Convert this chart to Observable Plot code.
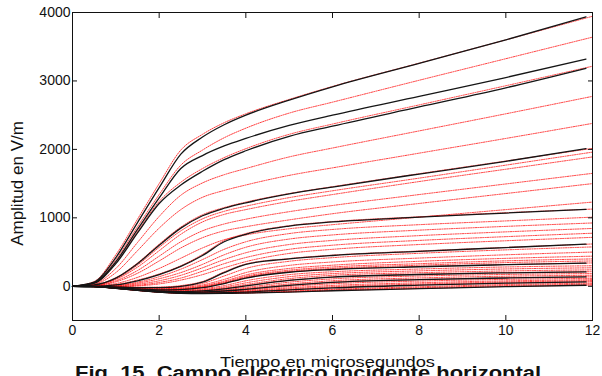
<!DOCTYPE html>
<html><head><meta charset="utf-8">
<script src="https://cdn.jsdelivr.net/npm/d3@7"></script>
<script src="https://cdn.jsdelivr.net/npm/@observablehq/plot@0.6"></script>
<style>
html,body{margin:0;padding:0;background:#fff;overflow:hidden;width:602px;height:376px}
#wrap{position:relative;width:602px;height:376px}
.lab{position:absolute;white-space:nowrap;font-family:"Liberation Sans",Arial,sans-serif;transform-origin:0 0;color:#111}
</style></head><body><div id="wrap"></div>
<script>
// Tick labels
const xTicks = [0, 2, 4, 6, 8, 10, 12];
const yTicks = [0, 1000, 2000, 3000, 4000];
// Sample times (microseconds)
const tiempo      = [0, 0.5, 1, 1.5, 2, 2.5, 3, 3.5, 4, 5, 6, 8, 10, 12];
const tiempoNegro = [0, 0.5, 1, 1.5, 2, 2.5, 3, 3.5, 4, 5, 6, 8, 10, 11.85];
// Black (solid) curves, V/m
const curvasNegras = [
  [0, 60, 420, 930, 1440, 1930, 2180, 2360, 2500, 2720, 2915, 3257, 3600, 3935],
  [0, 50, 360, 830, 1290, 1720, 1910, 2050, 2160, 2350, 2500, 2775, 3050, 3320],
  [0, 45, 330, 780, 1210, 1480, 1680, 1850, 1980, 2190, 2340, 2620, 2900, 3185],
  [0, 20, 120, 330, 600, 850, 1030, 1140, 1220, 1350, 1450, 1640, 1825, 2010],
  [0, 0, 20, 80, 170, 290, 450, 650, 760, 880, 940, 1010, 1070, 1125],
  [0, -1, -10, -20, -20, 0, 60, 200, 320, 400, 450, 510, 565, 615],
  [0, -3, -20, -40, -52, -48, -20, 40, 120, 205, 245, 285, 315, 338],
  [0, -4, -25, -50, -69, -77, -67, -38, 5, 85, 133, 172, 196, 210],
  [0, -5, -26, -55, -79, -89, -84, -69, -44, 12, 57, 97, 121, 137],
  [0, -5, -29, -59, -84, -99, -99, -94, -84, -54, -24, 16, 46, 64],
  [0, -5, -30, -60, -86, -102, -106, -105, -100, -85, -65, -35, -5, 15]
];
// Red (dotted) curves, V/m
const curvasRojas = [
  [0, 70, 460, 980, 1500, 1990, 2220, 2390, 2520, 2730, 2920, 3260, 3600, 3945],
  [0, 55, 390, 870, 1340, 1770, 1990, 2170, 2310, 2530, 2690, 3010, 3325, 3640],
  [0, 45, 340, 800, 1240, 1520, 1720, 1880, 2010, 2220, 2370, 2650, 2930, 3215],
  [0, 35, 260, 640, 1020, 1330, 1510, 1630, 1720, 1890, 2020, 2270, 2520, 2775],
  [0, 28, 200, 520, 850, 1120, 1300, 1400, 1480, 1620, 1730, 1945, 2160, 2380],
  [0, 20, 125, 340, 615, 865, 1045, 1150, 1230, 1355, 1455, 1645, 1830, 2015],
  [0, 16, 110, 310, 570, 810, 985, 1095, 1170, 1295, 1395, 1580, 1770, 1960],
  [0, 14, 100, 280, 520, 760, 940, 1050, 1120, 1240, 1340, 1530, 1710, 1890],
  [0, 10, 80, 230, 440, 650, 810, 910, 980, 1090, 1180, 1340, 1495, 1650],
  [0, 8, 65, 190, 370, 560, 710, 810, 870, 970, 1060, 1210, 1355, 1500],
  [0, 5, 40, 130, 260, 410, 560, 680, 750, 840, 900, 1010, 1120, 1230],
  [0, 0, 25, 90, 180, 300, 465, 665, 770, 885, 945, 1015, 1075, 1128],
  [0, 0, 15, 60, 140, 250, 390, 540, 650, 770, 830, 900, 955, 1010],
  [0, 0, 10, 45, 110, 200, 320, 460, 570, 690, 750, 820, 875, 925],
  [0, 0, 5, 30, 80, 160, 270, 390, 490, 610, 670, 740, 795, 845],
  [0, 0, 0, 15, 55, 120, 220, 330, 420, 540, 600, 670, 725, 775],
  [0, -1, -5, 5, 35, 90, 170, 270, 360, 480, 540, 610, 665, 715],
  [0, -1, -8, -15, -12, 10, 70, 210, 325, 405, 455, 515, 568, 618],
  [0, -1, -10, -18, -18, -2, 42, 150, 260, 365, 418, 482, 532, 575],
  [0, -2, -12, -24, -28, -16, 20, 100, 200, 305, 355, 412, 460, 500],
  [0, -2, -14, -28, -36, -28, 5, 75, 165, 260, 308, 365, 408, 440],
  [0, -3, -15, -32, -42, -36, -5, 60, 145, 235, 282, 330, 372, 400],
  [0, -3, -18, -35, -47, -42, -12, 50, 132, 218, 262, 308, 346, 370],
  [0, -3, -19, -39, -50, -46, -18, 42, 122, 207, 248, 288, 318, 341],
  [0, -3, -20, -42, -56, -56, -36, 10, 80, 170, 212, 252, 282, 300],
  [0, -4, -22, -45, -61, -64, -48, -10, 50, 140, 185, 225, 253, 270],
  [0, -4, -23, -47, -65, -71, -58, -25, 25, 112, 160, 198, 224, 240],
  [0, -4, -24, -49, -67, -75, -65, -35, 9, 89, 136, 175, 199, 213],
  [0, -4, -25, -52, -73, -82, -74, -50, -15, 60, 108, 150, 173, 186],
  [0, -4, -25, -54, -76, -86, -79, -60, -30, 34, 81, 122, 147, 161],
  [0, -5, -26, -54, -78, -88, -82, -66, -40, 16, 60, 99, 123, 139],
  [0, -5, -27, -57, -81, -93, -89, -77, -56, -3, 37, 76, 101, 116],
  [0, -5, -28, -58, -83, -95, -93, -84, -67, -23, 12, 51, 79, 96],
  [0, -5, -29, -59, -84, -97, -97, -89, -75, -38, -6, 33, 63, 81],
  [0, -5, -29, -59, -84, -98, -98, -92, -81, -51, -21, 18, 48, 66],
  [0, -5, -30, -60, -85, -100, -102, -99, -91, -69, -44, -7, 26, 46],
  [0, -5, -30, -60, -85, -101, -104, -102, -96, -77, -54, -21, 11, 31],
  [0, -5, -30, -60, -85, -101, -105, -104, -99, -83, -63, -33, -3, 16]
];
const etiquetaX = "Tiempo en microsegundos";
const etiquetaY = "Amplitud en V/m";
const titulo = "Fig. 15. Campo eléctrico incidente horizontal";

const datosNegros = curvasNegras.flatMap((vals, i) => vals.map((v, j) => ({id: "n" + i, t: tiempoNegro[j], v})));
const datosRojos = curvasRojas.flatMap((vals, i) => vals.map((v, j) => ({id: "r" + i, t: tiempo[j], v})));

const chart = Plot.plot({
  width: 602, height: 376,
  marginLeft: 72, marginRight: 10, marginTop: 12, marginBottom: 56,
  style: {fontFamily: "'Liberation Sans', Arial, sans-serif", fontSize: "14px", color: "#111", background: "white", overflow: "visible"},
  x: {domain: [0, 12]},
  y: {domain: [-500, 4000]},
  marks: [
    Plot.line(datosRojos, {x: "t", y: "v", z: "id", stroke: "#ff0000", strokeWidth: 0.9, strokeDasharray: "1.2,1.2", strokeOpacity: 0.85, curve: "monotone-x"}),
    Plot.line(datosNegros, {x: "t", y: "v", z: "id", stroke: "#151515", strokeWidth: 1.3, curve: "monotone-x"}),
    Plot.frame({stroke: "#111", strokeWidth: 1}),
    Plot.axisX({ticks: xTicks, tickSize: -5, tickPadding: 10, label: null, tickFormat: d => String(d)}),
    Plot.axisX({anchor: "top", ticks: xTicks, tickSize: -5, tickFormat: () => "", label: null}),
    Plot.axisY({ticks: yTicks, tickSize: -5, tickPadding: 7, label: null, tickFormat: d => String(d)}),
    Plot.axisY({anchor: "right", ticks: yTicks, tickSize: -5, tickFormat: () => "", label: null}),
    Plot.text([etiquetaY], {frameAnchor: "left", textAnchor: "middle", rotate: -90, dx: -55, dy: 17, fontSize: 17, fill: "#111"})
  ]
});
const wrap = document.getElementById("wrap");
wrap.appendChild(chart);
const xl = document.createElement("div");
xl.className = "lab";
xl.textContent = etiquetaX;
Object.assign(xl.style, {left: "220px", top: "354px", fontSize: "15px", lineHeight: "15px", transform: "scaleX(1.22)"});
wrap.appendChild(xl);
const cap = document.createElement("div");
cap.className = "lab";
cap.textContent = titulo;
Object.assign(cap.style, {left: "75px", top: "364px", fontSize: "18px", lineHeight: "18px", fontWeight: "bold", transform: "scaleX(1.22)"});
wrap.appendChild(cap);
</script></body></html>
